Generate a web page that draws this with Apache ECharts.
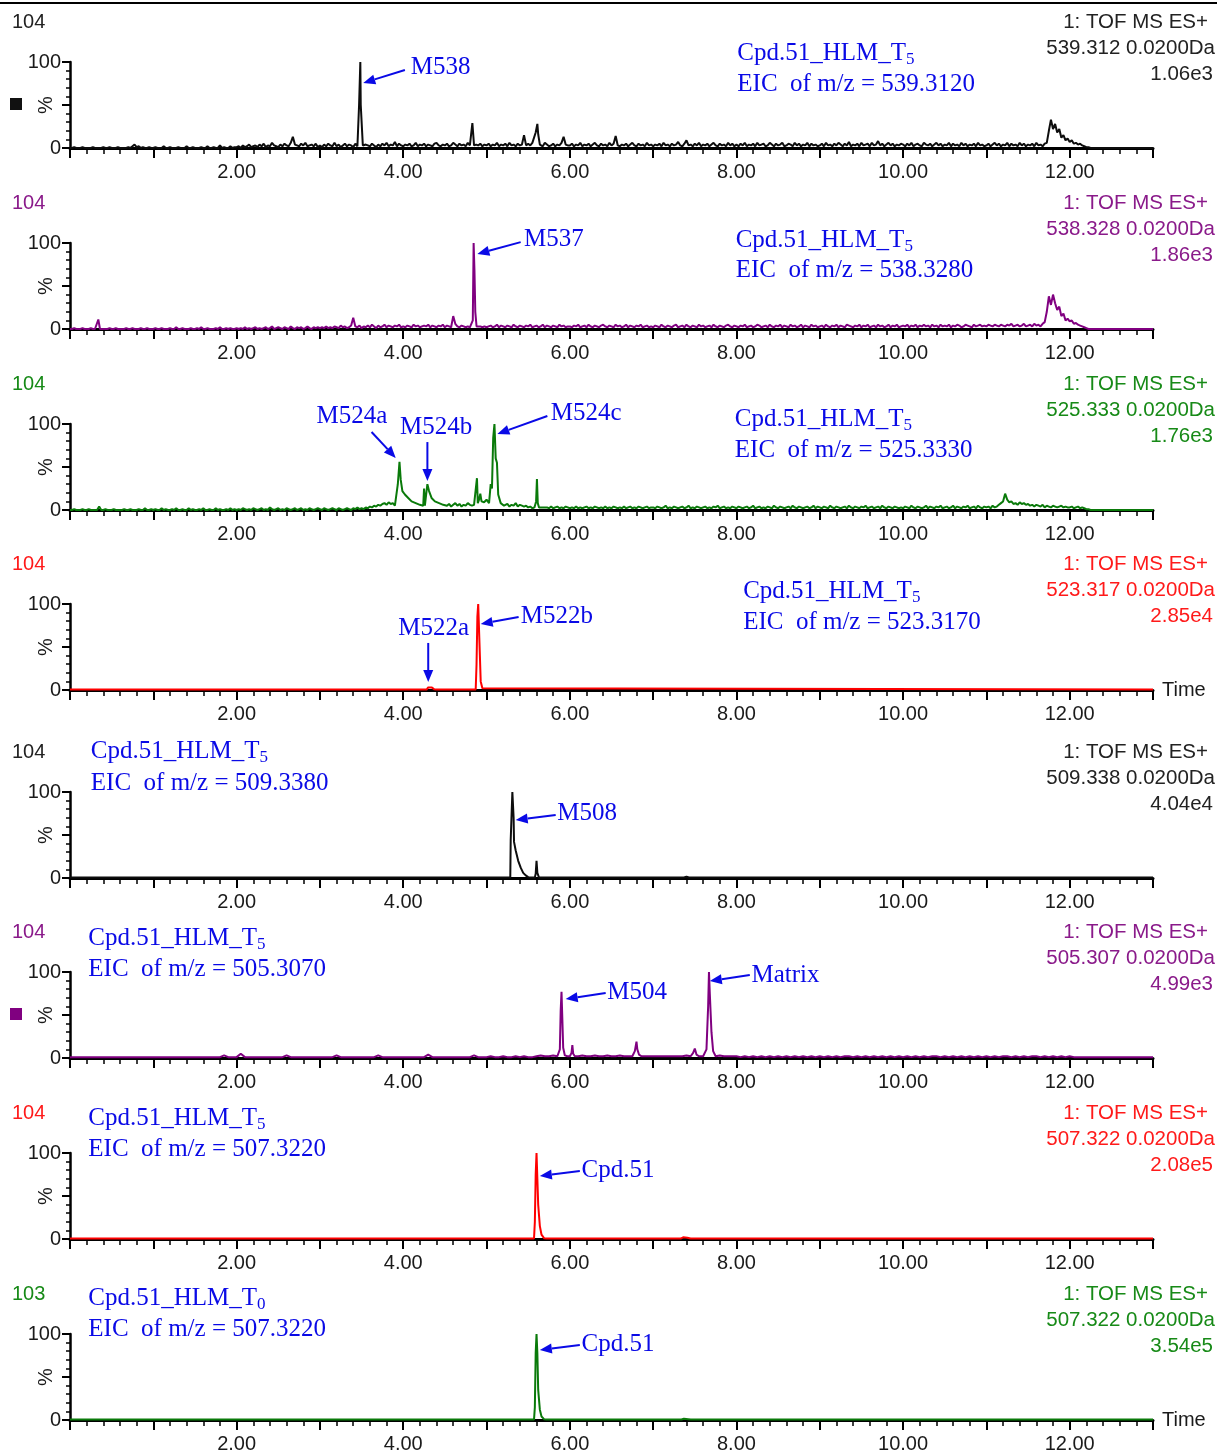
<!DOCTYPE html>
<html>
<head>
<meta charset="utf-8">
<script src="https://cdn.jsdelivr.net/npm/echarts@6/dist/echarts.min.js"></script>
<style>
  html, body { margin: 0; padding: 0; background: #fff; }
  #chart { width: 1217px; height: 1454px; }
</style>
</head>
<body>
<div id="chart"></div>
<script>
// ---------------------------------------------------------------
// Extracted ion chromatograms (EIC), relative intensity in %.
// Baseline noise is sampled on a regular grid starting at 0.00 min;
// peaks are listed as [time (min), intensity (%)] segments.
// ---------------------------------------------------------------
const TIME_MAX = 13.0;

const channelMass  = ['539.312', '538.328', '525.333', '523.317', '509.338', '505.307', '507.322', '507.322'];
const channelScale = ['1.06e3', '1.86e3', '1.76e3', '2.85e4', '4.04e4', '4.99e3', '2.08e5', '3.54e5'];
const exponentText = ['104', '104', '104', '104', '104', '104', '104', '103'];
const sampleTime   = ['5', '5', '5', '5', '5', '5', '5', '0'];
const eicMz        = ['539.3120', '538.3280', '525.3330', '523.3170', '509.3380', '505.3070', '507.3220', '507.3220'];
const xTickLabels  = ['2.00', '4.00', '6.00', '8.00', '10.00', '12.00'];

// m/z 539.312 — noise every 0.025 min
const noise539 = [
  0,0,1,0,0,0,1,0,0,0,0,1,0,0,0,0,1,0,0,1,0,0,0,1,0,0,0,0,1,0,2,4,1,2,0,1,0,0,1,0,
  0,1,0,0,0,2,0,0,1,0,0,0,1,0,0,0,2,0,0,1,0,0,0,1,0,0,2,0,0,1,0,0,3,0,1,0,0,2,0,1,
  1,2,0,3,1,2,4,1,2,3,1,4,2,5,1,3,2,6,3,2,1,4,2,5,3,2,6,13,4,3,2,5,3,6,2,3,4,2,5,1,
  3,1,4,2,5,3,2,6,2,4,1,3,5,2,4,3,1,5,2,3,6,2,4,3,2,5,3,1,4,2,5,3,6,2,4,3,7,2,5,3,
  2,4,3,5,2,3,6,2,4,3,5,2,4,3,2,5,6,3,2,4,3,5,2,3,6,4,2,5,3,4,2,6,3,5,2,4,3,5,2,4,
  3,5,2,4,3,6,2,4,3,5,2,6,3,4,2,5,3,4,15,3,5,3,6,2,4,3,5,2,6,4,2,3,5,2,4,3,6,13,4,3,
  3,5,2,4,3,6,2,4,3,5,2,4,6,3,2,5,3,4,2,6,3,5,14,3,2,4,3,5,2,4,6,3,2,5,3,4,2,6,3,4,
  2,4,3,5,2,6,3,4,2,5,3,4,7,3,2,5,9,3,4,2,5,3,6,2,4,3,5,2,4,6,3,2,5,3,4,2,6,3,5,2,
  4,2,5,3,6,2,4,3,5,2,6,3,4,5,2,3,6,4,2,5,3,4,6,2,3,5,4,2,6,3,5,2,4,3,6,2,5,3,4,2,
  3,5,2,6,3,4,2,5,3,6,4,2,5,3,7,2,4,3,5,2,6,3,4,5,2,6,3,4,8,3,5,2,4,6,3,5,2,4,3,5,
  4,2,5,3,6,2,4,5,3,2,6,4,3,5,2,4,6,3,5,2,4,3,6,2,5,3,4,2,6,3,5,2,4,3,5,2,6,3,4,2,
  3,5,2,4,6,3,5,2,4,3,6,2,5,3,4,2,6,3,5,2,4,3,5,2,6,3,4,2,5,6,20,33,22,28,18,22,12,15,9,11,
  7,9,5,6,4,5,3,2,1,1,0,0,0,0,0,0,0,0,0,0,0,0,0,0,0,0,0,0,0,0,0,0,0,0,0,0,0,0,0,0,
  0
];
const peaks539 = [
  [[3.46, 3], [3.47, 50], [3.485, 100], [3.49, 50], [3.51, 50], [3.515, 3]],
  [[4.81, 3], [4.83, 29], [4.85, 3]],
  [[5.57, 4], [5.59, 18], [5.61, 28], [5.62, 16], [5.64, 4]]
];

// m/z 538.328 — noise every 0.025 min
const noise538 = [
  0,0,1,0,0,0,1,0,0,0,1,0,0,0,0,1,0,0,0,1,0,0,1,0,0,0,0,1,0,0,1,0,0,0,1,0,0,1,0,0,
  0,1,0,0,1,0,0,0,1,0,0,2,0,0,1,0,0,0,1,0,0,1,0,2,0,0,1,0,0,0,1,0,2,0,0,1,0,1,0,0,
  1,0,1,0,2,0,1,0,1,2,0,1,0,1,2,0,1,3,0,1,2,1,0,2,1,0,3,1,0,2,1,2,0,1,3,1,0,2,1,2,
  1,2,1,3,1,2,1,3,2,1,4,2,3,1,2,4,13,3,2,4,1,3,2,4,2,5,3,1,4,2,3,5,2,4,3,2,4,3,5,2,
  3,2,4,3,2,5,3,4,2,3,4,3,5,2,4,3,2,4,3,5,2,4,3,2,15,6,3,2,4,3,2,3,2,4,3,2,4,3,2,3,
  2,3,4,2,3,5,2,4,3,2,4,3,2,5,3,2,4,3,2,4,3,5,2,3,4,2,3,5,2,4,3,2,4,3,2,5,3,4,2,3,
  3,2,4,3,5,2,3,4,2,5,3,2,4,3,2,4,5,3,2,4,3,2,5,3,4,2,3,5,2,4,3,2,4,3,5,2,3,4,2,3,
  2,4,3,2,5,3,2,4,3,2,4,5,2,3,4,2,5,3,2,4,3,2,5,3,4,2,3,4,2,5,3,2,4,3,2,4,5,3,2,4,
  3,2,4,3,5,2,3,4,2,3,5,4,2,3,4,2,5,3,2,4,3,5,2,4,3,2,5,3,4,2,3,5,2,4,3,2,5,3,4,2,
  3,4,2,5,3,2,4,3,5,2,4,3,2,5,4,3,2,4,3,5,2,4,3,5,2,3,4,2,5,3,4,2,3,5,2,4,3,5,2,3,
  4,3,5,2,4,3,5,2,4,3,5,3,4,2,5,3,4,2,5,3,4,3,5,2,4,3,5,4,2,3,5,4,3,2,5,3,4,5,3,4,
  3,5,4,3,5,4,3,5,4,3,5,4,6,3,4,5,3,4,6,3,4,5,3,6,4,5,3,6,8,20,38,28,40,30,22,26,15,18,10,12,
  9,10,6,7,5,4,3,2,1,0,0,0,0,0,0,0,0,0,0,0,0,0,0,0,0,0,0,0,0,0,0,0,0,0,0,0,0,0,0,0,
  0
];
const peaks538 = [
  [[0.32, 0], [0.34, 11], [0.36, 0]],
  [[4.82, 3], [4.835, 10], [4.845, 100], [4.855, 68], [4.865, 20], [4.88, 3]]
];

// m/z 525.333 — noise every 0.025 min
const noise525 = [
  0,0,1,0,0,0,1,0,0,1,0,0,0,0,4,0,0,1,0,0,0,1,0,0,0,0,1,0,0,1,0,0,0,1,0,0,2,0,0,1,
  0,1,0,0,2,0,1,0,0,1,0,2,0,0,1,0,0,2,0,1,0,0,1,0,2,0,0,1,0,0,2,0,1,0,0,1,0,2,0,1,
  0,1,0,2,1,0,1,0,2,1,0,1,2,0,1,0,3,1,0,1,2,0,1,0,2,1,0,1,2,0,1,2,0,1,0,2,1,0,1,2,
  1,0,2,1,0,1,2,1,0,2,1,0,1,2,1,0,2,1,3,1,2,1,3,2,4,3,5,4,6,5,7,8,6,9,7,8,5,6,6,6,
  20,18,15,13,10,9,8,7,6,6,25,20,15,12,10,9,8,7,6,6,6,5,7,4,6,8,5,7,4,6,5,8,6,5,7,8,8,8,8,8,
  8,8,8,8,8,8,8,8,8,5,7,4,6,5,8,4,6,5,4,5,3,4,2,3,3,3,3,3,3,3,2,4,2,3,4,2,3,2,4,3,
  2,3,2,4,2,3,2,3,4,2,3,2,4,3,2,3,2,4,2,3,2,4,3,2,3,2,4,2,3,4,2,3,2,4,3,2,3,4,2,3,
  3,2,4,3,2,3,5,2,3,2,4,3,2,3,4,2,3,5,2,3,2,4,3,2,3,4,2,3,2,4,3,5,2,3,4,2,3,2,4,3,
  2,4,3,2,3,4,2,3,5,2,3,4,2,3,2,4,3,2,5,3,2,4,3,2,3,4,2,5,3,2,4,3,2,3,4,2,3,5,2,4,
  3,2,4,3,2,5,3,2,4,3,2,3,4,2,5,3,2,4,3,2,4,3,5,2,3,4,2,3,4,2,5,3,2,4,3,2,4,3,2,3,
  2,4,3,2,5,3,2,4,3,2,3,5,2,4,3,2,4,3,5,2,3,4,2,3,5,2,4,3,2,4,3,5,2,3,4,2,5,3,2,4,
  3,4,2,5,3,4,6,8,10,19,12,9,10,7,8,6,9,7,8,6,7,5,6,4,6,5,4,6,3,5,4,3,5,4,3,4,5,3,4,3,
  3,4,2,3,4,2,3,2,1,1,0,0,0,0,0,0,0,0,0,0,0,0,0,0,0,0,0,0,0,0,0,0,0,0,0,0,0,0,0,0,
  0
];
const peaks525 = [
  [[3.92, 6], [3.935, 30], [3.955, 56], [3.97, 35], [3.99, 22], [4.02, 18], [4.06, 14], [4.10, 10], [4.15, 8], [4.20, 6], [4.24, 5]],
  [[4.26, 5], [4.275, 18], [4.29, 30], [4.31, 22], [4.34, 14], [4.38, 10], [4.43, 8], [4.48, 6]],
  [[4.85, 6], [4.87, 8], [4.885, 37], [4.895, 8], [4.91, 12], [4.925, 19], [4.94, 10], [4.97, 9], [5.00, 12], [5.03, 8],
   [5.05, 30], [5.065, 25], [5.08, 84], [5.095, 100], [5.11, 60], [5.125, 55], [5.14, 18], [5.17, 8], [5.21, 5]],
  [[5.58, 3], [5.595, 10], [5.605, 36], [5.615, 8], [5.63, 3]]
];

// m/z 523.317
const peaks523 = [
  [[0, 0.5], [4.28, 0.5], [4.30, 3], [4.32, 5], [4.34, 3], [4.37, 1], [4.40, 0.5],
   [4.58, 0.5], [4.60, 2], [4.62, 0.5],
   [4.87, 0.5], [4.88, 30], [4.89, 85], [4.90, 100], [4.91, 70], [4.92, 40], [4.93, 10], [4.95, 2], [4.97, 0.5],
   [13.0, 0.5]]
];

// m/z 509.338
const peaks509 = [
  [[0, 0.5], [5.285, 0.5], [5.29, 44], [5.30, 45], [5.31, 100], [5.325, 70], [5.33, 42], [5.35, 32], [5.38, 20],
   [5.41, 12], [5.44, 6], [5.47, 3], [5.50, 1], [5.52, 0.5],
   [5.58, 0.5], [5.59, 5], [5.60, 20], [5.61, 6], [5.63, 0.5],
   [7.37, 0.5], [7.40, 1.5], [7.43, 0.5], [13.0, 0.5]]
];

// m/z 505.307 — noise every 0.05 min
const noise505 = [
  1,1,1,1,1,1,1,1,1,1,1,1,1,1,1,1,1,1,1,1,
  1,1,1,1,1,1,1,1,1,1,1,1,1,1,1,1,1,3,1,1,
  1,5,1,1,1,1,1,1,1,1,1,1,3,1,1,1,1,1,1,1,
  1,1,1,1,3,1,1,1,1,1,1,1,1,1,3,1,1,1,1,1,
  1,1,1,1,1,1,4,1,1,1,1,1,1,1,1,1,1,3,1,1,
  1,2,1,1,2,1,1,2,1,2,1,1,2,3,2,2,3,2,2,2,
  3,2,2,3,2,2,3,2,2,3,2,2,3,2,2,2,2,3,2,2,
  2,2,2,2,2,2,2,2,3,4,2,2,2,2,2,2,3,2,2,2,
  2,1,2,1,2,1,2,1,2,1,2,1,2,1,2,1,2,1,2,1,
  2,1,2,1,2,1,2,2,1,2,1,2,1,2,1,2,1,2,1,2,
  1,2,1,2,1,2,1,2,2,1,2,1,2,1,2,1,2,1,2,1,
  2,1,2,1,2,2,1,2,1,2,1,2,2,1,2,1,2,1,2,1,
  2,1,1,1,1,1,1,1,1,1,1,1,1,1,1,1,1,1,1,1,
  1
];
const peaks505 = [
  [[5.86, 2], [5.88, 10], [5.89, 55], [5.90, 77], [5.91, 45], [5.92, 12], [5.94, 3], [5.97, 2]],
  [[6.00, 2], [6.02, 6], [6.03, 15], [6.04, 5], [6.06, 2]],
  [[6.76, 2], [6.78, 8], [6.80, 19], [6.81, 10], [6.83, 4], [6.86, 2]],
  [[7.45, 2], [7.48, 6], [7.50, 11], [7.52, 4], [7.55, 2]],
  [[7.62, 2], [7.64, 10], [7.66, 60], [7.67, 100], [7.68, 75], [7.70, 30], [7.72, 8], [7.75, 2]]
];

// m/z 507.322, T5 incubation
const peaks507t5 = [
  [[0, 0.5], [5.57, 0.5], [5.58, 20], [5.59, 75], [5.60, 100], [5.61, 70], [5.62, 40], [5.64, 15], [5.66, 5],
   [5.69, 1], [5.72, 0.5], [7.33, 0.5], [7.36, 2], [7.38, 3], [7.41, 1.5], [7.45, 0.5], [13.0, 0.5]]
];

// m/z 507.322, T0 incubation
const peaks507t0 = [
  [[0, 0.5], [5.57, 0.5], [5.58, 15], [5.59, 78], [5.60, 100], [5.61, 78], [5.62, 35], [5.64, 12], [5.66, 4],
   [5.69, 1], [5.72, 0.5], [7.34, 0.5], [7.37, 1.5], [7.39, 2], [7.42, 1], [7.45, 0.5], [13.0, 0.5]]
];

const traces = [
  { noise: noise539, step: 0.025, peaks: peaks539,   color: '#0d0d0d', head: '#222222' },
  { noise: noise538, step: 0.025, peaks: peaks538,   color: '#800080', head: '#8a1a8a' },
  { noise: noise525, step: 0.025, peaks: peaks525,   color: '#0a7a0a', head: '#178a17' },
  { noise: null,     step: 0,     peaks: peaks523,   color: '#ff0000', head: '#ff1a1a' },
  { noise: null,     step: 0,     peaks: peaks509,   color: '#0d0d0d', head: '#222222' },
  { noise: noise505, step: 0.05,  peaks: peaks505,   color: '#800080', head: '#8a1a8a' },
  { noise: null,     step: 0,     peaks: peaks507t5, color: '#ff0000', head: '#ff1a1a' },
  { noise: null,     step: 0,     peaks: peaks507t0, color: '#0a7a0a', head: '#178a17' }
];

// Peak call-outs: text anchor and arrow ends, in (min, %) of their panel.
const callouts = [
  { panel: 0, text: 'M538',  at: [4.09, 94],   from: [4.02, 90.7],  to: [3.52, 75.6] },
  { panel: 1, text: 'M537',  at: [5.45, 104.7], from: [5.41, 101],  to: [4.89, 87.2] },
  { panel: 2, text: 'M524a', at: [2.96, 109.3], from: [3.62, 90.7], to: [3.91, 60.5] },
  { panel: 2, text: 'M524b', at: [3.96, 96.5],  from: [4.29, 79],   to: [4.29, 33.7] },
  { panel: 2, text: 'M524c', at: [5.77, 112.8], from: [5.73, 109.3], to: [5.13, 88.4] },
  { panel: 3, text: 'M522b', at: [5.41, 86],    from: [5.385, 84.9], to: [4.93, 76.7] },
  { panel: 3, text: 'M522a', at: [3.94, 72],    from: [4.30, 54.7], to: [4.30, 9.3] },
  { panel: 4, text: 'M508',  at: [5.85, 75.6],  from: [5.83, 73.3], to: [5.35, 67.4] },
  { panel: 5, text: 'M504',  at: [6.45, 76.7],  from: [6.43, 75.6], to: [5.95, 68.6] },
  { panel: 5, text: 'Matrix', at: [8.18, 96.5], from: [8.16, 96.5], to: [7.68, 89.5] },
  { panel: 6, text: 'Cpd.51', at: [6.14, 80.2], from: [6.12, 79],   to: [5.64, 73.3] },
  { panel: 7, text: 'Cpd.51', at: [6.14, 88.4], from: [6.12, 87.2], to: [5.64, 81.4] }
];

// Sample / EIC caption anchors: [time, % for line 1, % for line 2]
const captionAt = [
  [8.01, 110.5, 74.4], [7.99, 103.5, 68.6], [7.98, 105.8, 69.8], [8.08, 115, 79],
  [0.25, 147.7, 110.5], [0.22, 139.5, 103.5], [0.22, 140.7, 104.7], [0.22, 141.9, 105.8]
];

// ---------------------------------------------------------------
// Layout
// ---------------------------------------------------------------
const panelTop = [62, 243, 424, 604, 792, 972, 1153, 1334];
const PANEL_H = 86;
const GRID_LEFT = 70;
const GRID_W = 1083;
const SANS = "'Liberation Sans', Arial, sans-serif";
const SERIF = "'Liberation Serif', 'Times New Roman', serif";
const BLUE = '#0a0ae6';
const INK = '#1a1a1a';

function buildTrace(noise, step, peaks) {
  const pts = [];
  if (noise) {
    noise.forEach((v, i) => {
      const t = +(i * step).toFixed(3);
      const covered = peaks.some(seg => t >= seg[0][0] && t <= seg[seg.length - 1][0]);
      if (!covered) pts.push([t, v]);
    });
  }
  peaks.forEach(seg => seg.forEach(p => pts.push(p)));
  pts.sort((a, b) => a[0] - b[0]);
  return pts;
}

const chart = echarts.init(document.getElementById('chart'), null, { renderer: 'canvas' });

const grids = [], xAxes = [], yAxes = [], series = [];
traces.forEach((tr, i) => {
  grids.push({ left: GRID_LEFT, top: panelTop[i], width: GRID_W, height: PANEL_H,
    containLabel: false, outerBoundsMode: 'none' });
  const showTime = (i === 3 || i === 7);
  xAxes.push({
    type: 'value', gridIndex: i, min: 0, max: TIME_MAX, interval: 1,
    axisLine: { show: true, onZero: false, lineStyle: { color: '#000', width: 3 } },
    axisTick: { show: true, length: 10, lineStyle: { color: '#000', width: 2 } },
    minorTick: { show: true, splitNumber: 5, length: 6, lineStyle: { color: '#000', width: 1.5 } },
    splitLine: { show: false },
    minorSplitLine: { show: false },
    axisLabel: {
      margin: 14, fontSize: 20, color: INK, fontFamily: SANS,
      formatter: v => {
        const s = Number(v).toFixed(2);
        return xTickLabels.indexOf(s) >= 0 ? s : '';
      }
    },
    name: showTime ? 'Time' : '',
    nameLocation: 'end', nameGap: 9,
    nameTextStyle: { fontSize: 20, color: INK, fontFamily: SANS }
  });
  yAxes.push({
    type: 'value', gridIndex: i, min: 0, max: 100, interval: 50,
    axisLine: { show: true, lineStyle: { color: '#000', width: 2.5 } },
    axisTick: { show: true, length: 8, lineStyle: { color: '#000', width: 2 } },
    minorTick: { show: true, splitNumber: 5, length: 4, lineStyle: { color: '#000', width: 1.5 } },
    splitLine: { show: false },
    minorSplitLine: { show: false },
    axisLabel: {
      margin: 9, fontSize: 20, color: INK, fontFamily: SANS,
      formatter: v => (v === 50 ? '' : String(v))
    },
    name: '%', nameLocation: 'middle', nameRotate: 90, nameGap: 14, nameMoveOverlap: false,
    nameTextStyle: { fontSize: 20, color: INK, fontFamily: SANS }
  });
  series.push({
    type: 'line', xAxisIndex: i, yAxisIndex: i,
    data: buildTrace(tr.noise, tr.step, tr.peaks),
    showSymbol: false, symbol: 'none', silent: true, z: 3,
    lineStyle: { color: tr.color, width: 2 },
    animation: false
  });
});

chart.setOption({
  backgroundColor: '#fff',
  animation: false,
  grid: grids, xAxis: xAxes, yAxis: yAxes, series: series
});

// ---------------------------------------------------------------
// Captions, headers and call-out arrows
// ---------------------------------------------------------------
const graphics = [];

graphics.push({
  type: 'line', shape: { x1: 0, y1: 3, x2: 1217, y2: 3 },
  style: { stroke: '#000', lineWidth: 2 }, silent: true
});

function px(panel, pt) {
  return chart.convertToPixel({ gridIndex: panel }, pt);
}

traces.forEach((tr, i) => {
  const top = panelTop[i];
  graphics.push({ type: 'text', x: 12, y: top - 40,
    style: { text: exponentText[i], fill: tr.head, font: '20px ' + SANS, verticalAlign: 'middle', align: 'left' } });
  graphics.push({ type: 'text', x: 1208, y: top - 40,
    style: { text: '1: TOF MS ES+', fill: tr.head, font: '20.5px ' + SANS, verticalAlign: 'middle', align: 'right' } });
  graphics.push({ type: 'text', x: 1215, y: top - 14,
    style: { text: channelMass[i] + ' 0.0200Da', fill: tr.head, font: '20.5px ' + SANS, verticalAlign: 'middle', align: 'right' } });
  graphics.push({ type: 'text', x: 1213, y: top + 12,
    style: { text: channelScale[i], fill: tr.head, font: '20.5px ' + SANS, verticalAlign: 'middle', align: 'right' } });

  const c = captionAt[i];
  const p1 = px(i, [c[0], c[1]]);
  const p2 = px(i, [c[0], c[2]]);
  graphics.push({ type: 'text', x: p1[0], y: p1[1],
    style: {
      text: '{a|Cpd.51_HLM_T}{s|' + sampleTime[i] + '}',
      verticalAlign: 'middle', align: 'left',
      rich: {
        a: { fontSize: 25, fontFamily: SERIF, fill: BLUE, color: BLUE, lineHeight: 30 },
        s: { fontSize: 17, fontFamily: SERIF, fill: BLUE, color: BLUE, lineHeight: 30, verticalAlign: 'bottom', padding: [8, 0, 0, 0] }
      }
    } });
  graphics.push({ type: 'text', x: p2[0], y: p2[1],
    style: { text: 'EIC  of m/z = ' + eicMz[i], fill: BLUE, font: '25px ' + SERIF, verticalAlign: 'middle', align: 'left' } });
});

// square channel markers
[[0, '#111111'], [5, '#800080']].forEach(([i, col]) => {
  graphics.push({ type: 'rect', shape: { x: 10, y: panelTop[i] + 36, width: 12, height: 12 },
    style: { fill: col }, silent: true });
});

callouts.forEach(cl => {
  const t = px(cl.panel, cl.at);
  graphics.push({ type: 'text', x: t[0], y: t[1],
    style: { text: cl.text, fill: BLUE, font: '25px ' + SERIF, verticalAlign: 'middle', align: 'left' } });
  const a = px(cl.panel, cl.from);
  const b = px(cl.panel, cl.to);
  const ang = Math.atan2(b[1] - a[1], b[0] - a[0]);
  const HL = 12, HW = 5;
  const bx = b[0] - HL * Math.cos(ang), by = b[1] - HL * Math.sin(ang);
  graphics.push({ type: 'line', shape: { x1: a[0], y1: a[1], x2: bx, y2: by },
    style: { stroke: BLUE, lineWidth: 2 }, silent: true });
  graphics.push({ type: 'polygon',
    shape: { points: [
      [b[0], b[1]],
      [bx + HW * Math.sin(ang), by - HW * Math.cos(ang)],
      [bx - HW * Math.sin(ang), by + HW * Math.cos(ang)]
    ] },
    style: { fill: BLUE }, silent: true });
});

chart.setOption({ graphic: graphics });
</script>
</body>
</html>
